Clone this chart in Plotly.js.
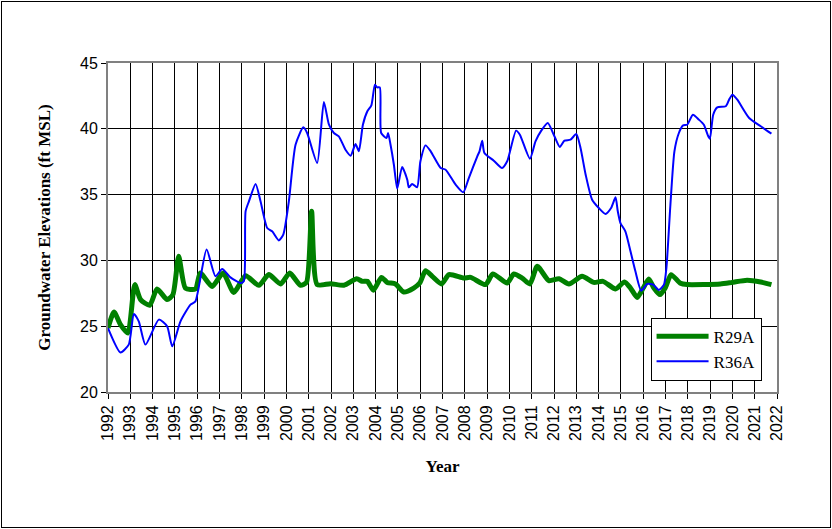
<!DOCTYPE html>
<html>
<head>
<meta charset="utf-8">
<script src="https://cdn.plot.ly/plotly-3.0.1.min.js"></script>
<style>
  body { margin: 0; background: #fff; }
  #wrap { position: relative; width: 832px; height: 529px; }
  #chart { width: 832px; height: 529px; }
  #frame { position: absolute; left: 1px; top: 1px; width: 828px; height: 525px; border: 1px solid #000; pointer-events: none; }
</style>
</head>
<body>
<div id="wrap"><div id="chart"></div><div id="frame"></div></div>
<script>
// R29A (decimal year, ft MSL)
const r29aYears = [1992.0,1992.27,1992.56,1992.89,1993.2,1993.46,1993.87,1994.2,1994.65,1994.91,1995.17,1995.47,1995.92,1996.14,1996.67,1997.16,1997.64,1998.17,1998.76,1999.21,1999.74,2000.15,2000.63,2000.9,2001.13,2001.38,2001.98,2002.58,2003.15,2003.4,2003.63,2003.9,2004.26,2004.52,2004.89,2005.26,2005.71,2005.98,2006.24,2006.54,2006.96,2007.29,2007.96,2008.26,2008.93,2009.26,2009.9,2010.2,2010.57,2010.92,2011.25,2011.77,2012.22,2012.67,2013.26,2013.78,2014.2,2014.76,2015.16,2015.43,2015.73,2016.0,2016.25,2016.48,2016.75,2017.0,2017.25,2017.67,2017.97,2019.46,2019.99,2020.66,2021.27,2021.75];
const r29aValues = [24.86,26.08,25.12,24.48,28.16,27.02,26.59,27.83,27.02,27.4,30.31,27.9,27.83,29.04,28.02,29.04,27.57,28.84,28.11,28.92,28.21,29.04,28.11,28.33,33.73,28.16,28.23,28.11,28.61,28.41,28.41,27.73,28.71,28.33,28.21,27.6,27.9,28.28,29.22,28.79,28.21,28.92,28.66,28.71,28.16,28.97,28.28,28.97,28.66,28.21,29.55,28.46,28.61,28.21,28.79,28.33,28.41,27.83,28.36,27.9,27.19,27.9,28.59,27.9,27.4,27.95,28.92,28.26,28.16,28.21,28.33,28.49,28.36,28.16];

// R36A (decimal year, ft MSL)
const r36aYears = [1992.0,1992.56,1992.93,1993.16,1993.38,1993.68,1994.28,1994.65,1994.88,1995.25,1995.7,1995.92,1996.42,1996.82,1997.12,1997.49,1997.94,1998.09,1998.17,1998.32,1998.62,1998.84,1999.14,1999.36,1999.66,1999.86,2000.11,2000.41,2000.76,2000.93,2001.38,2001.68,2001.91,2002.13,2002.35,2002.65,2002.88,2003.1,2003.25,2003.43,2003.63,2003.81,2003.97,2004.07,2004.19,2004.25,2004.49,2004.56,2004.67,2004.82,2004.97,2005.19,2005.42,2005.49,2005.64,2005.86,2006.01,2006.24,2006.47,2006.92,2007.14,2007.59,2007.93,2008.18,2008.56,2008.66,2008.78,2008.88,2009.3,2009.67,2009.9,2010.3,2010.47,2010.92,2011.17,2011.43,2011.72,2012.02,2012.26,2012.47,2012.74,2013.0,2013.19,2013.42,2013.71,2014.01,2014.31,2014.56,2014.76,2014.86,2014.98,2015.2,2015.43,2015.65,2015.91,2016.18,2016.45,2016.7,2016.93,2017.04,2017.22,2017.4,2017.6,2017.79,2017.97,2018.23,2018.5,2018.72,2018.9,2018.99,2019.14,2019.32,2019.7,2019.85,2020.0,2020.22,2020.75,2021.27,2021.75];
const r36aValues = [24.86,23.01,23.6,25.93,25.37,23.6,25.5,24.99,23.47,25.37,26.64,26.89,30.82,28.79,29.35,28.71,28.28,28.41,33.73,34.49,35.81,34.49,32.46,32.21,31.52,31.96,34.49,38.79,40.11,39.68,37.4,42.04,40.31,39.68,39.43,38.41,37.96,38.84,38.29,40.31,41.33,41.78,43.35,43.15,43.15,39.68,39.3,39.68,38.79,37.27,35.45,37.1,36.13,35.55,35.81,35.55,37.53,38.74,38.29,37.02,36.89,35.75,35.17,36.26,37.91,38.29,39.1,38.16,37.58,37.02,37.53,39.86,39.55,37.73,39.05,39.86,40.44,39.43,38.62,39.1,39.17,39.6,38.54,36.51,34.61,33.98,33.53,33.98,34.79,33.73,32.84,32.21,30.69,29.17,27.7,28.21,28.16,27.75,28.16,29.42,34.23,38.29,39.68,40.26,40.31,41.07,40.69,40.31,39.5,39.25,41.07,41.63,41.71,42.21,42.59,42.21,40.82,40.19,39.63];

const yTicks = [20, 25, 30, 35, 40, 45];

const traces = [
  { x: r29aYears, y: r29aValues, name: 'R29A', type: 'scatter', mode: 'lines',
    line: { color: '#008000', width: 5, shape: 'spline', smoothing: 0.6 } },
  { x: r36aYears, y: r36aValues, name: 'R36A', type: 'scatter', mode: 'lines',
    line: { color: '#0000FF', width: 2, shape: 'spline', smoothing: 0.6 } }
];

const layout = {
  width: 832, height: 529,
  margin: { l: 107.5, r: 55.4, t: 63.3, b: 136.7 },
  paper_bgcolor: '#fff', plot_bgcolor: '#fff',
  showlegend: true,
  legend: {
    x: 0.811, y: 0.226, xanchor: 'left', yanchor: 'top',
    bgcolor: '#fff', bordercolor: '#000', borderwidth: 1,
    itemwidth: 52,
    font: { family: 'Liberation Serif, Times New Roman, serif', size: 17, color: '#000' },
    tracegroupgap: 10
  },
  xaxis: {
    range: [1992, 2022], tickmode: 'linear', tick0: 1992, dtick: 1, tickformat: 'd',
    tickangle: -90, ticks: 'outside', ticklen: 5, tickcolor: '#000',
    tickfont: { family: 'Liberation Sans, Arial, sans-serif', size: 16, color: '#000' },
    showgrid: true, gridcolor: '#000', gridwidth: 1, zeroline: false,
    showline: true, linecolor: '#808080', linewidth: 2, mirror: true,
    title: { text: '<b>Year</b>', standoff: 20,
      font: { family: 'Liberation Serif, Times New Roman, serif', size: 17, color: '#000' } }
  },
  yaxis: {
    range: [20, 45], tickvals: yTicks, ticks: 'outside', ticklen: 5, tickcolor: '#000',
    tickfont: { family: 'Liberation Sans, Arial, sans-serif', size: 16, color: '#000' },
    showgrid: true, gridcolor: '#000', gridwidth: 1, zeroline: false,
    showline: true, linecolor: '#808080', linewidth: 2, mirror: true,
    title: { text: '<b>Groundwater Elevations (ft MSL)</b>', standoff: 25,
      font: { family: 'Liberation Serif, Times New Roman, serif', size: 17, color: '#000' } }
  }
};

Plotly.newPlot('chart', traces, layout, { staticPlot: true, displayModeBar: false });
</script>
</body>
</html>
